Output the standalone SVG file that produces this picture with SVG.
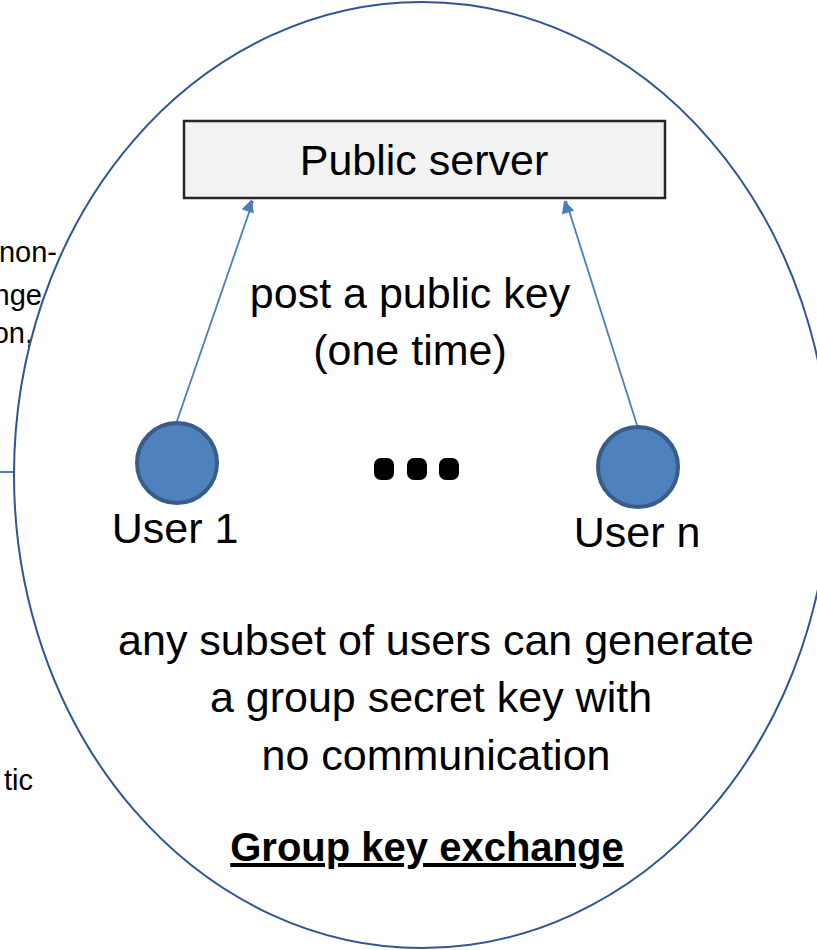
<svg xmlns="http://www.w3.org/2000/svg" width="817" height="950" viewBox="0 0 817 950">
<defs>
<style>
.t{font-family:"Liberation Sans",Arial,sans-serif;font-size:43px;fill:#000;text-anchor:middle}
.s{font-family:"Liberation Sans",Arial,sans-serif;font-size:29px;fill:#000;text-anchor:end}
.b{font-family:"Liberation Sans",Arial,sans-serif;font-size:40px;font-weight:bold;fill:#000;text-anchor:middle}
.user{fill:#4f81bd;stroke:#385d8a;stroke-width:4}
.arr{stroke:#4a7ebb;stroke-width:1.8;fill:none;marker-end:url(#ah)}
.dot{fill:#000}
</style>
<marker id="ah" viewBox="0 0 10 10" refX="9" refY="5" markerWidth="8" markerHeight="8" markerUnits="userSpaceOnUse" orient="auto" style="overflow:visible">
<path d="M0,0 L10,5 L0,10 z" fill="#4a7ebb" transform="scale(1.6) translate(-3.4,-3.1)"/>
</marker>
</defs>
<rect width="817" height="950" fill="#fff"/>
<g id="side-text">
<text class="s" x="57" y="262">non-</text>
<text class="s" x="42" y="305">nge</text>
<text class="s" x="33" y="343">on,</text>
<text class="s" x="33" y="790">tic</text>
<line x1="0" y1="472" x2="15" y2="472" stroke="#4a7ebb" stroke-width="2"/>
</g>
<g id="group-ellipse">
<ellipse cx="422" cy="475" rx="408" ry="473" fill="none" stroke="#2f5597" stroke-width="2"/>
</g>
<g id="public-server">
<rect x="184" y="121" width="481" height="77" fill="#f2f2f2" stroke="#262626" stroke-width="2.5"/>
<text class="t" x="424" y="175">Public server</text>
</g>
<g id="connectors">
<line class="arr" x1="177" y1="421" x2="253" y2="201"/>
<line class="arr" x1="637" y1="425" x2="566" y2="201"/>
</g>
<g id="user-1">
<circle class="user" cx="177" cy="463" r="40"/>
<text class="t" x="175" y="543">User 1</text>
</g>
<g id="ellipsis">
<rect class="dot" x="374" y="458" width="20" height="22" rx="7"/>
<rect class="dot" x="407" y="458" width="20" height="22" rx="7"/>
<rect class="dot" x="439" y="458" width="20" height="22" rx="7"/>
</g>
<g id="user-n">
<circle class="user" cx="638" cy="467" r="40"/>
<text class="t" x="637" y="547">User n</text>
</g>
<g id="labels">
<text class="t" x="410" y="308">post a public key</text>
<text class="t" x="410" y="365">(one time)</text>
<text class="t" x="436" y="655">any subset of users can generate</text>
<text class="t" x="431" y="712">a group secret key with</text>
<text class="t" x="436" y="770">no communication</text>
<text class="b" x="427" y="861" text-decoration="underline">Group key exchange</text>
</g>
</svg>
